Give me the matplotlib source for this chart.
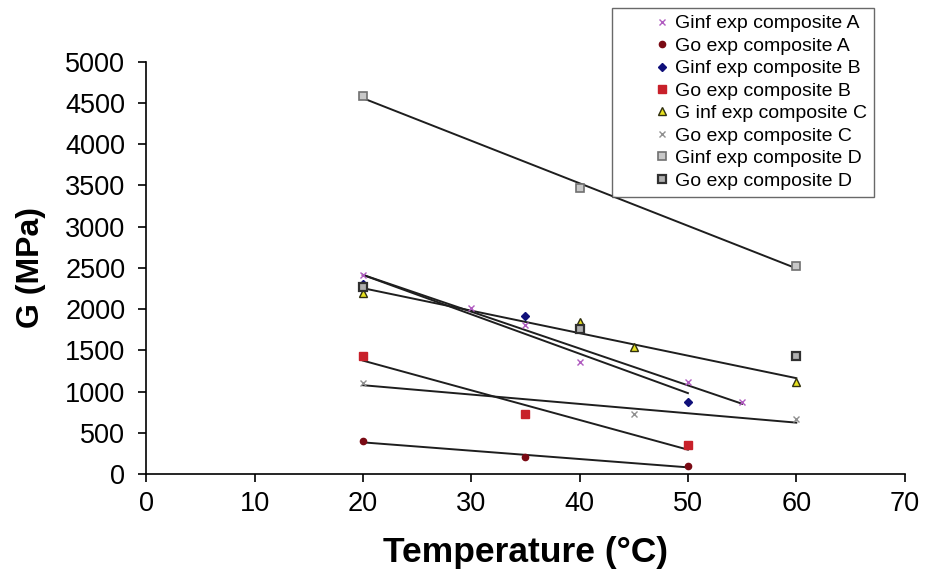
import numpy as np
import matplotlib
matplotlib.use("Agg")
import matplotlib.pyplot as plt

plt.rcParams["font.family"] = ["Liberation Sans", "DejaVu Sans"]

# --- data (temperature in C, G in MPa) ---
ginf_a_t = [20, 30, 35, 40, 50, 55]
ginf_a_g = [2415, 2015, 1808, 1360, 1117, 874]

go_a_t = [20, 35, 50]
go_a_g = [400, 206, 97]

ginf_b_t = [20, 35, 50]
ginf_b_g = [2307, 1917, 874]

go_b_t = [20, 35, 50]
go_b_g = [1432, 728, 352]

ginf_c_t = [20, 40, 45, 60]
ginf_c_g = [2200, 1845, 1541, 1117]

go_c_t = [20, 45, 60]
go_c_g = [1104, 728, 667]

ginf_d_t = [20, 40, 60]
ginf_d_g = [4587, 3470, 2524]

go_d_t = [20, 40, 60]
go_d_g = [2270, 1765, 1432]

series = [
    ("Ginf exp composite A", ginf_a_t, ginf_a_g, dict(marker="x", color="#b05cc0", ms=4.5, mew=1.0), True),
    ("Go exp composite A", go_a_t, go_a_g, dict(marker="o", color="#7a0a14", ms=4.5), True),
    ("Ginf exp composite B", ginf_b_t, ginf_b_g, dict(marker="D", color="#10107a", ms=4), True),
    ("Go exp composite B", go_b_t, go_b_g, dict(marker="s", color="#c8202a", ms=6), True),
    ("G inf exp composite C", ginf_c_t, ginf_c_g, dict(marker="^", mfc="#e6e020", mec="#303010", ms=5.5), True),
    ("Go exp composite C", go_c_t, go_c_g, dict(marker="x", color="#909090", ms=5, mew=1.0), True),
    ("Ginf exp composite D", ginf_d_t, ginf_d_g, dict(marker="s", mfc="#c8c8c8", mec="#707070", ms=6, mew=1.2), True),
    ("Go exp composite D", go_d_t, go_d_g, dict(marker="s", mfc="#b0b0b0", mec="#303030", ms=6, mew=1.6), False),
]

fig = plt.figure(figsize=(9.25, 5.72), dpi=100)
ax = fig.add_axes([0.158, 0.171, 0.820, 0.721])

# linear trendlines first, markers on top
for label, t, g, style, trend in series:
    if trend:
        k, b = np.polyfit(t, g, 1)
        tt = np.array([min(t), max(t)])
        ax.plot(tt, k * tt + b, color="#1e1e1e", lw=1.4, zorder=2)

for label, t, g, style, trend in series:
    ax.plot(t, g, ls="none", label=label, zorder=3, **style)

ax.set_xlim(0, 70)
ax.set_ylim(0, 5000)
ax.set_xticks(range(0, 71, 10))
ax.set_yticks(range(0, 5001, 500))
ax.tick_params(labelsize=19.5, length=6, width=1.2, direction="out")
ax.tick_params(axis="y", pad=9)
ax.tick_params(axis="x", pad=6)
for s in ["top", "right"]:
    ax.spines[s].set_visible(False)
for s in ["left", "bottom"]:
    ax.spines[s].set_linewidth(1.2)

ax.set_xlabel("Temperature (°C)", fontsize=25.5, fontweight="bold", labelpad=14)
ax.set_ylabel("G (MPa)", fontsize=23, fontweight="bold", labelpad=14)

leg = ax.legend(loc="upper left", bbox_to_anchor=(612 / 925, 1 - 8 / 572),
                bbox_transform=fig.transFigure, borderaxespad=0,
                fontsize=14, frameon=True, fancybox=False,
                edgecolor="#444444", handlelength=4.4, handletextpad=-1.5,
                labelspacing=0.25, borderpad=0.35, numpoints=1)
leg.get_frame().set_linewidth(1.0)

fig.savefig("out.png", dpi=100)
